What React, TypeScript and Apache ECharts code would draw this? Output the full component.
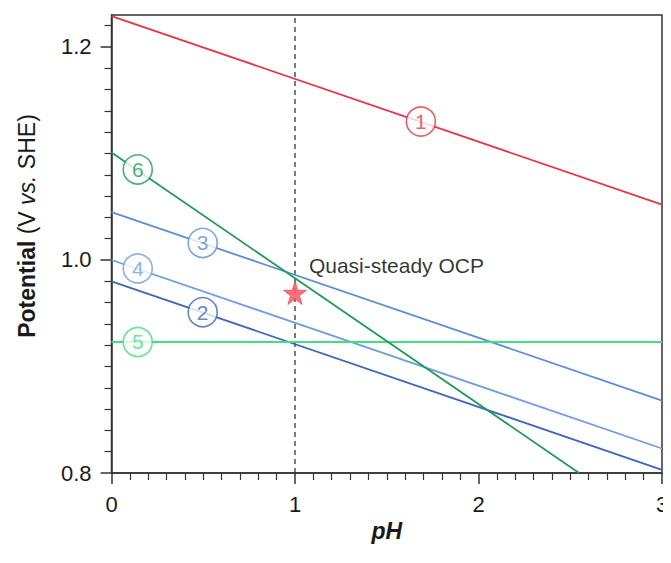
import React, { useEffect, useRef } from "react";
import * as echarts from "echarts";

// pH range
const phTicks = [0, 1, 2, 3];
const potentialTicks = [0.8, 1.0, 1.2];

// Each line: [pH, potential] endpoints (V vs. SHE)
const line1 = [[0, 1.229], [3, 1.052]];
const line2 = [[0, 0.98], [3, 0.803]];
const line3 = [[0, 1.045], [3, 0.868]];
const line4 = [[0, 1.0], [3, 0.823]];
const line5 = [[0, 0.923], [3, 0.923]];
const line6 = [[0, 1.101], [2.548, 0.8]];

const lineNames = ["1", "2", "3", "4", "5", "6"];
const lineColors = ["#e8344b", "#3b68b8", "#5b8ed8", "#6f9fe2", "#3ee07f", "#1f9a58"];
// label circle positions [pH, potential]
const labelPos = [
  [1.686, 1.13],
  [0.497, 0.951],
  [0.497, 1.016],
  [0.143, 0.992],
  [0.143, 0.923],
  [0.143, 1.085],
];

const ocpPoint = [1.0, 0.969];
const ocpLabel = "Quasi-steady OCP";
const dashedPH = 1;

const FONT = "'Liberation Sans', Arial, Helvetica, sans-serif";
const STAR =
  "path://M50,0 L61.8,35.4 L99,35.4 L69,57.3 L80.3,92.7 L50,70.8 L19.7,92.7 L31,57.3 L1,35.4 L38.2,35.4 Z";

export default function App() {
  const ref = useRef<HTMLDivElement>(null);
  useEffect(() => {
    if (!ref.current) return;
    const chart = echarts.init(ref.current, null, { renderer: "svg" });
    const lines = [line1, line2, line3, line4, line5, line6];
    const minorY: number[] = [];
    for (let i = 1; i <= 21; i++) {
      const v = Math.round((0.8 + i * 0.02) * 100) / 100;
      if (Math.abs(v - 1.0) > 1e-6 && Math.abs(v - 1.2) > 1e-6) minorY.push(v);
    }
    const axisColor = "#333";
    const series: any[] = [];
    series.push({
      type: "line",
      data: [[dashedPH, 0.8], [dashedPH, 1.23]],
      symbol: "none",
      lineStyle: { color: "#333", width: 1.3, type: [5, 4] },
      z: 1,
      silent: true,
    });
    lines.forEach((d, i) => {
      series.push({
        type: "line",
        data: d,
        symbol: "none",
        lineStyle: { color: lineColors[i], width: 1.8 },
        z: 2,
        silent: true,
      });
    });
    series.push({
      type: "scatter",
      data: labelPos.map((p, i) => ({
        value: p,
        itemStyle: { color: "#fff", borderColor: lineColors[i], borderWidth: 1.6 },
        label: {
          show: true,
          position: "inside",
          formatter: lineNames[i],
          color: lineColors[i],
          fontSize: 21,
          fontFamily: FONT,
        },
      })),
      symbol: "circle",
      symbolSize: 29,
      z: 5,
      silent: true,
    });
    series.push({
      type: "scatter",
      data: [ocpPoint],
      symbol: STAR,
      symbolSize: 23,
      itemStyle: { color: "#f5636b", borderColor: "#ef4752", borderWidth: 0.8, opacity: 0.9 },
      label: {
        show: true,
        position: "right",
        offset: [-3, -27],
        formatter: ocpLabel,
        color: "#1a1a1a",
        fontSize: 21,
        fontFamily: FONT,
      },
      z: 6,
      silent: true,
    });

    chart.setOption({
      animation: false,
      textStyle: { fontFamily: FONT },
      grid: {
        left: 103.5,
        right: 9,
        top: 7,
        bottom: 82,
        outerBoundsMode: "none",
        containLabel: false,
        show: true,
        borderColor: axisColor,
        borderWidth: 1.5,
        backgroundColor: "transparent",
      },
      xAxis: {
        type: "value",
        min: 0,
        max: 3,
        interval: 1,
        name: "pH",
        nameLocation: "middle",
        nameGap: 38,
        nameTextStyle: { fontSize: 23, fontWeight: "bold", fontStyle: "italic", color: "#1a1a1a", fontFamily: FONT },
        axisLine: { show: true, onZero: false, lineStyle: { color: axisColor, width: 1.5 } },
        axisTick: { show: true, length: 11, lineStyle: { color: axisColor, width: 1.5 } },
        minorTick: { show: true, splitNumber: 10, length: 7, lineStyle: { color: axisColor, width: 1.2 } },
        axisLabel: {
          color: "#1a1a1a",
          fontSize: 22,
          margin: 20,
          fontFamily: FONT,
          customValues: phTicks,
        },
        splitLine: { show: false },
        minorSplitLine: { show: false },
      },
      yAxis: [
        {
          type: "value",
          min: 0.8,
          max: 1.23,
          position: "left",
          name: "{b|Potential} (V {i|vs.} SHE)",
          nameLocation: "middle",
          nameGap: 73,
          nameRotate: 90,
          nameTextStyle: {
            fontSize: 23,
            color: "#1a1a1a",
            fontFamily: FONT,
            padding: [0, 0, 0, 36],
            rich: {
              b: { fontSize: 23, fontWeight: "bold", color: "#1a1a1a", fontFamily: FONT },
              i: { fontSize: 23, fontStyle: "italic", color: "#1a1a1a", fontFamily: FONT },
            },
          },
          axisLine: { show: true, onZero: false, lineStyle: { color: axisColor, width: 1.5 } },
          axisTick: { show: true, length: 11, customValues: potentialTicks, lineStyle: { color: axisColor, width: 1.5 } },
          axisLabel: {
            color: "#1a1a1a",
            fontSize: 22,
            margin: 20,
            fontFamily: FONT,
            customValues: potentialTicks,
            formatter: (v: number) => v.toFixed(1),
          },
          splitLine: { show: false },
        },
        {
          type: "value",
          min: 0.8,
          max: 1.23,
          position: "left",
          offset: 0,
          axisLine: { show: false },
          axisTick: { show: true, length: 7, customValues: minorY, lineStyle: { color: axisColor, width: 1.2 } },
          axisLabel: { show: false },
          splitLine: { show: false },
        },
      ],
      series,
    });
    return () => chart.dispose();
  }, []);
  return <div ref={ref} style={{ width: 663, height: 547 }} />;
}
